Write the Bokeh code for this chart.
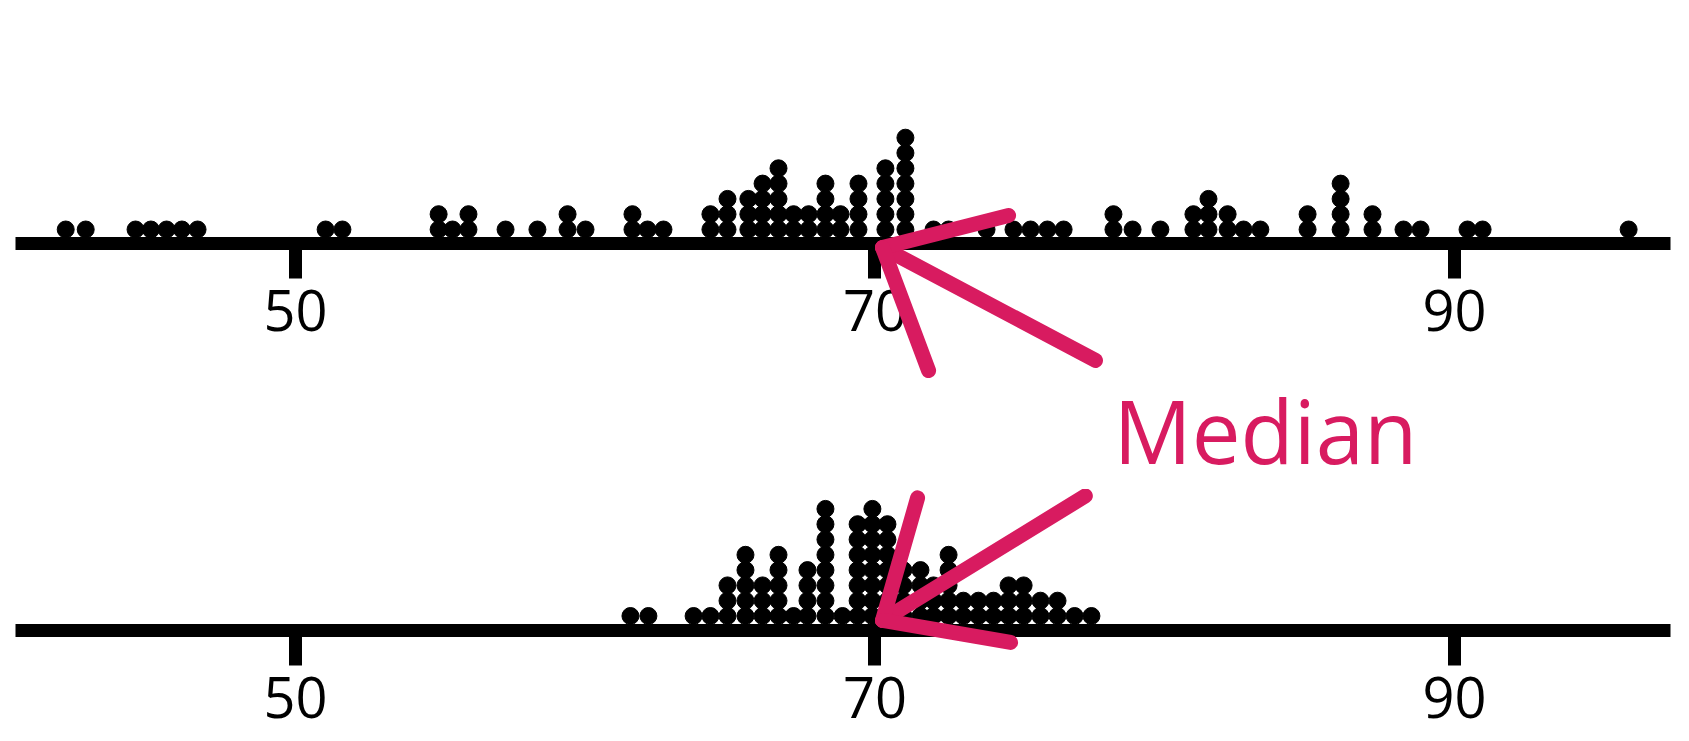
from bokeh.plotting import figure
from bokeh.layouts import column
from bokeh.models import Range1d, FixedTicker
from bokeh.core.properties import value
from bokeh.embed import file_html
from bokeh.resources import INLINE

# ---- data: dot-plot bins (value, number of stacked dots) ----
top_values = [42.07, 42.76, 44.48, 45.01, 45.55, 46.08, 46.62, 51.04, 51.62,
              54.94, 55.42, 55.97, 57.25, 58.35, 59.39, 60.01, 61.63, 62.15, 62.70,
              64.32, 64.91, 65.63, 66.12, 66.67, 67.19, 67.71, 68.29, 68.81, 69.43,
              70.36, 71.05, 72.02, 72.54, 73.85, 74.78, 75.37, 75.95, 76.51,
              78.23, 78.89, 79.85, 80.99, 81.51, 82.17, 82.72, 83.30,
              84.93, 86.07, 87.17, 88.24, 88.83, 90.45, 90.97, 96.01]
top_counts = [1, 1, 1, 1, 1, 1, 1, 1, 1,
              2, 1, 2, 1, 1, 2, 1, 2, 1, 1,
              2, 3, 3, 4, 5, 2, 2, 4, 2, 4,
              5, 7, 1, 1, 1, 1, 1, 1, 1,
              2, 1, 1, 2, 3, 2, 1, 1,
              2, 4, 2, 1, 1, 1, 1, 1]

bottom_values = [61.56, 62.18, 63.74, 64.32, 64.91, 65.53, 66.12, 66.67, 67.19,
                 67.67, 68.29, 68.88, 69.40, 69.91, 70.43, 70.98, 71.57, 72.02,
                 72.54, 73.05, 73.57, 74.09, 74.61, 75.13, 75.71, 76.30, 76.89, 77.47]
bottom_counts = [1, 1, 1, 1, 3, 5, 3, 5, 1,
                 4, 8, 1, 7, 8, 7, 4, 4, 3,
                 5, 2, 2, 2, 3, 3, 2, 2, 1, 1]

tick_values = [50, 70, 90]
annotation_text = "Median"

# arrow strokes (x in value units, y in stacked-dot units) : (x0, y0, x1, y1)
top_arrow = {"x0": [77.61, 70.26, 70.26], "y0": [-8.56, -1.18, -1.18],
             "x1": [70.26, 74.61, 71.85], "y1": [-1.18, 0.92, -9.22]}
bottom_arrow = {"x0": [77.26, 70.26, 70.26], "y0": [7.85, -0.29, -0.29],
                "x1": [70.26, 71.47, 74.68], "y1": [-0.29, 7.72, -1.73]}
label_pos = (78.23, -13.1)   # in the top row's units

PINK = "#D81B60"
FONT = "Open Sans"
X_START, X_END = 40.337, 97.455


def expand(values, counts):
    xs, ys = [], []
    for v, c in zip(values, counts):
        for k in range(c):
            xs.append(v)
            ys.append(k)
    return xs, ys


def make_fig(height, border_bottom, y_start, y_end):
    p = figure(width=1689, height=height, output_backend="svg", toolbar_location=None,
               x_range=Range1d(X_START, X_END), y_range=Range1d(y_start, y_end),
               min_border_left=15, min_border_right=19, min_border_top=0,
               min_border_bottom=border_bottom, y_axis_location=None,
               background_fill_color="white", border_fill_color="white")
    p.outline_line_color = None
    p.grid.visible = False
    ax = p.xaxis[0]
    ax.ticker = FixedTicker(ticks=tick_values)
    ax.axis_line_width = 13
    ax.axis_line_color = "black"
    ax.major_tick_line_width = 13
    ax.major_tick_line_color = "black"
    ax.major_tick_out = 35
    ax.major_tick_in = 0
    ax.minor_tick_line_color = None
    ax.major_label_text_font = FONT
    ax.major_label_text_font_size = "56px"
    ax.major_label_text_color = "black"
    ax.major_label_standoff = 11
    return p


# top row (its lower border also holds the annotation text)
p1 = make_fig(489, 246, -14 / 15.3, -14 / 15.3 + 243 / 15.3)
tx, ty = expand(top_values, top_counts)
p1.scatter(tx, ty, size=17, color="black")
p1.segment(x0=top_arrow["x0"], y0=top_arrow["y0"], x1=top_arrow["x1"], y1=top_arrow["y1"],
           line_color=PINK, line_width=15, line_cap="round", level="overlay")
p1.text(x=[label_pos[0]], y=[label_pos[1]], text=[annotation_text],
        text_font=value(FONT), text_font_size="87px", text_color=PINK,
        text_baseline="alphabetic", text_align="left", level="overlay")

# bottom row
p2 = make_fig(252, 111, -14.5 / 15.3, -14.5 / 15.3 + 141 / 15.3)
bx, by = expand(bottom_values, bottom_counts)
p2.scatter(bx, by, size=17, color="black")
p2.segment(x0=bottom_arrow["x0"], y0=bottom_arrow["y0"], x1=bottom_arrow["x1"], y1=bottom_arrow["y1"],
           line_color=PINK, line_width=15, line_cap="round", level="overlay")

layout = column(p1, p2, spacing=0)
open("out.html", "w").write(file_html(layout, INLINE))
